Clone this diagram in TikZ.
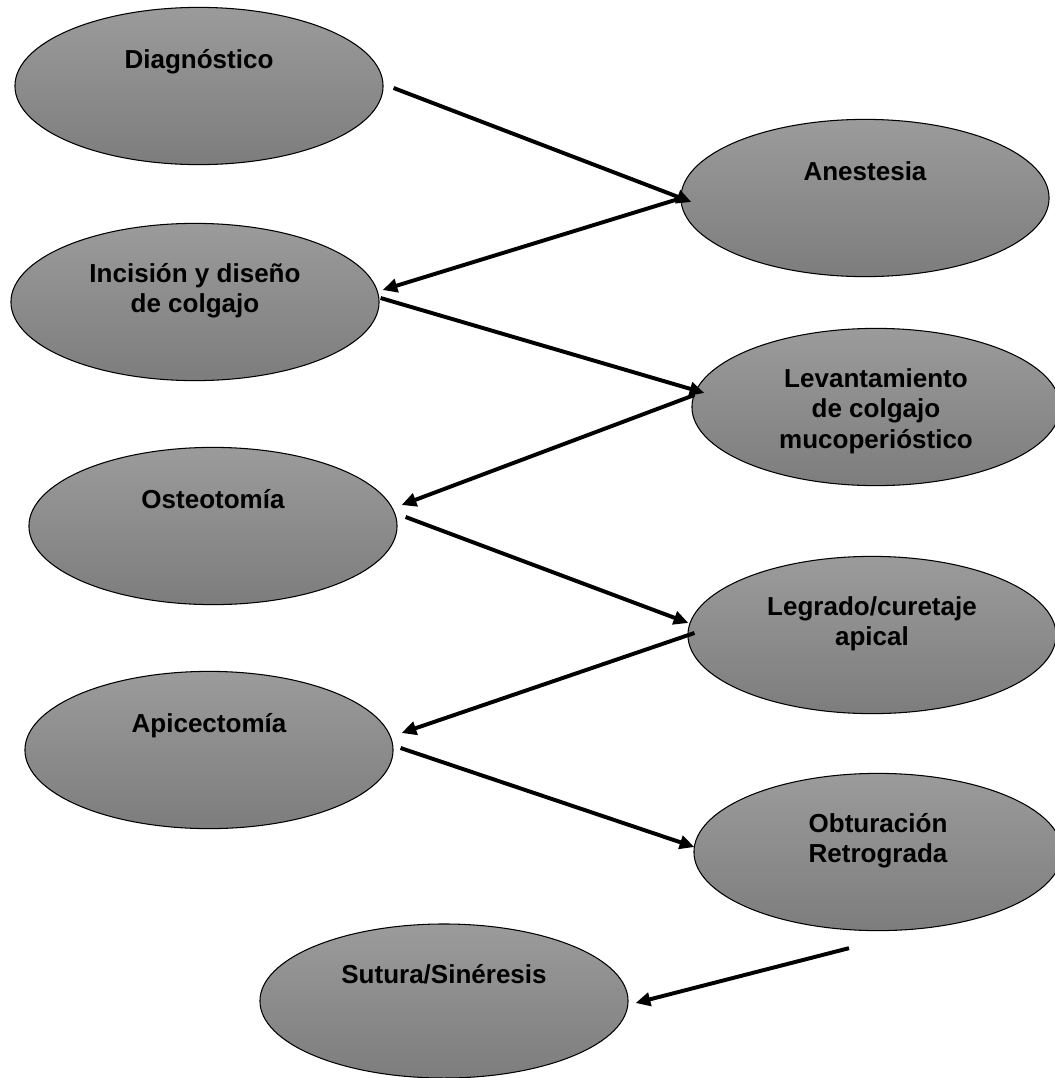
\documentclass[tikz,border=0pt]{standalone}
\usepackage{fontspec}
\setmainfont{Liberation Sans}
\usepackage{tikz}
\usetikzlibrary{shapes.geometric, arrows.meta}
\definecolor{paso_top}{HTML}{9B9B9B}
\definecolor{paso_bottom}{HTML}{7D7D7D}
\tikzset{
  paso/.style={ellipse, draw=black, line width=0.75pt, top color=paso_top, bottom color=paso_bottom,
    minimum width=9.2cm, minimum height=3.93cm, inner sep=0pt},
  rotulo/.style={anchor=north, inner sep=0pt, align=center,
    font=\fontsize{18.5}{21.7}\selectfont\bfseries, execute at begin node=\strut},
  flecha/.style={line width=2.8pt, -{Triangle[length=10.5pt,width=9.5pt]}}
}

\begin{document}
\begin{tikzpicture}[x=0.025cm, y=-0.025cm]
  \useasboundingbox (0,0) rectangle (1054,1078);

  % Left column
  \node[paso] (diag) at (199,86) {};
  \node[paso] (incis) at (195,302) {};
  \node[paso] (osteo) at (213,526) {};
  \node[paso] (apic) at (209,750) {};

  % Right column
  \node[paso] (anest) at (865,198) {};
  \node[paso] (levan) at (876,407) {};
  \node[paso] (legr) at (872,635) {};
  \node[paso] (obtur) at (878,852) {};

  % Last step
  \node[paso, minimum height=3.85cm] (sutura) at (444,1001) {};

  % Labels, set high in each ellipse
  \node[rotulo] (diag-t) at ([yshift=27.7pt]diag.center) {Diagnóstico};
  \node[rotulo] (anest-t) at ([yshift=27.7pt]anest.center) {Anestesia};
  \node[rotulo] (incis-t) at ([yshift=27.7pt]incis.center) {Incisión y diseño\\de colgajo};
  \node[rotulo] (levan-t) at ([yshift=27.7pt]levan.center) {Levantamiento\\de colgajo\\mucoperióstico};
  \node[rotulo] (osteo-t) at ([yshift=27.7pt]osteo.center) {Osteotomía};
  \node[rotulo] (legr-t) at ([yshift=27.7pt]legr.center) {Legrado/curetaje\\apical};
  \node[rotulo] (apic-t) at ([yshift=27.7pt]apic.center) {Apicectomía};
  \node[rotulo] (obtur-t) at ([yshift=27.7pt]obtur.center) {Obturación\\Retrograda};
  \node[rotulo] (sutura-t) at ([yshift=27.7pt]sutura.center) {Sutura/Sinéresis};

  % Zig-zag arrows
  \draw[flecha] ([shift={(10,2)}]diag.east) -- ([shift={(11,4)}]anest.west);
  \draw[flecha] ([shift={(-2,1)}]anest.west) -- ([shift={(3,-12)}]incis.east);
  \draw[flecha] ([shift={(1,-4)}]incis.east) -- ([shift={(13,-14)}]levan.west);
  \draw[flecha] ([shift={(3,-12)}]levan.west) -- ([shift={(4,-21)}]osteo.east);
  \draw[flecha] ([shift={(8,-9)}]osteo.east) -- ([shift={(1,-12)}]legr.west);
  \draw[flecha] ([shift={(7,-2)}]legr.west) -- ([shift={(8,-17)}]apic.east);
  \draw[flecha] ([shift={(7,-2)}]apic.east) -- ([shift={(1,-5)}]obtur.west);
  \draw[flecha] ([shift={(-29,17)}]obtur.south) -- ([shift={(7,2)}]sutura.east);
\end{tikzpicture}
\end{document}
